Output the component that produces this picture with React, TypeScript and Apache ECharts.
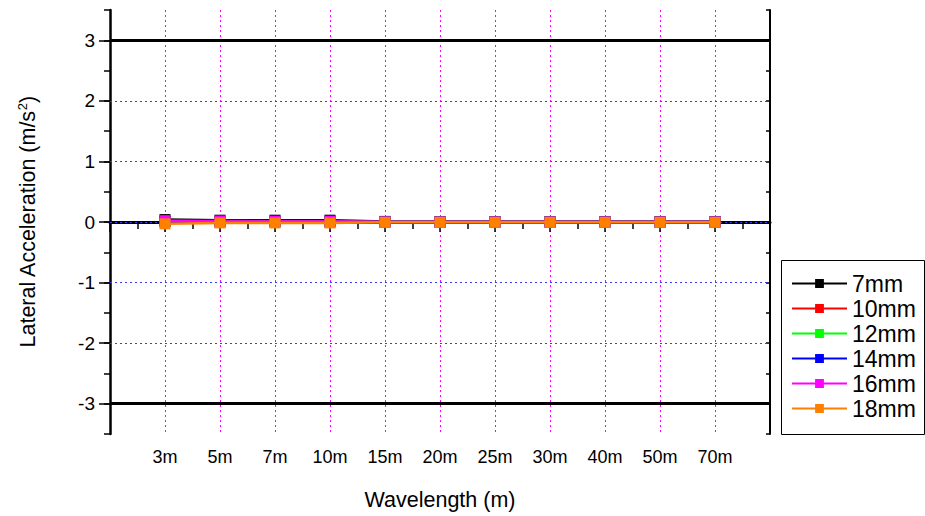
import React, { useEffect, useRef } from "react";
import * as echarts from "echarts";

// Wavelength categories along the x axis
const wavelengths = ["3m", "5m", "7m", "10m", "15m", "20m", "25m", "30m", "40m", "50m", "70m"];

// Lateral acceleration (m/s²) for each gauge deviation
const seriesNames = ["7mm", "10mm", "12mm", "14mm", "16mm", "18mm"];
const acc7mm = [0.04, 0.03, 0.03, 0.03, 0.01, 0.005, 0.005, 0.005, 0.005, 0.005, 0.005];
const acc10mm = [0.02, 0.02, 0.015, 0.015, 0.005, 0.005, 0.005, 0.005, 0.005, 0.005, 0.005];
const acc12mm = [0.005, 0.005, 0.005, 0.005, 0.0, 0.0, 0.0, 0.0, 0.0, 0.0, 0.0];
const acc14mm = [0.01, 0.0, 0.0, 0.0, 0.0, 0.0, 0.0, 0.0, 0.0, 0.0, 0.0];
const acc16mm = [0.02, 0.01, 0.01, 0.01, 0.0, 0.0, 0.0, 0.0, 0.0, 0.0, 0.0];
const acc18mm = [-0.03, -0.015, -0.015, -0.015, -0.005, -0.005, -0.005, -0.005, -0.005, -0.005, -0.005];
const seriesValues = [acc7mm, acc10mm, acc12mm, acc14mm, acc16mm, acc18mm];
const seriesColors = ["#000000", "#ff0000", "#00ff00", "#0000ff", "#ff00ff", "#ff8000"];

// Y axis tick labels and reference lines
const yTickValues = [-3, -2, -1, 0, 1, 2, 3];
const gridLevels = [-2, -1, 0, 1, 2];
const limitLevels = [-3, 3];

const FONT = "Liberation Sans, Arial, Helvetica, sans-serif";

export default function App() {
  const ref = useRef<HTMLDivElement>(null);

  useEffect(() => {
    if (!ref.current) return;
    const chart = echarts.init(ref.current, null, { renderer: "svg" });

    const lineSeries = seriesNames.map((name, si) => ({
      name,
      type: "line",
      xAxisIndex: 0,
      yAxisIndex: 0,
      data: wavelengths.map((_, i) => [i + 1, seriesValues[si][i]]),
      symbol: "rect",
      symbolSize: 11,
      showSymbol: true,
      lineStyle: { color: seriesColors[si], width: 2.5 },
      itemStyle: { color: seriesColors[si] },
      z: 5 + si,
    }));

    // Horizontal dotted grid and the two thick limit lines at ±3
    const guideSeries = {
      name: "guides",
      type: "line",
      xAxisIndex: 0,
      yAxisIndex: 0,
      data: [],
      silent: true,
      z: 1,
      markLine: {
        silent: true,
        symbol: "none",
        animation: false,
        label: { show: false },
        lineStyle: { color: "#3a3aff", width: 1, type: [2, 3] },
        data: [
          ...gridLevels.map((v) => ({
            yAxis: v,
            lineStyle: { color: "#3a3aff", width: 1, type: [2, 3], opacity: 1 },
          })),
          ...limitLevels.map((v) => ({
            yAxis: v,
            lineStyle: { color: "#000000", width: 3, type: "solid", opacity: 1 },
          })),
        ],
      },
    };

    chart.setOption({
      animation: false,
      backgroundColor: "#ffffff",
      textStyle: { fontFamily: FONT },
      grid: { left: 110, right: 155, top: 10, bottom: 82, containLabel: false },
      legend: {
        orient: "vertical",
        left: 786,
        top: 267,
        itemWidth: 55,
        itemHeight: 11,
        itemGap: 2,
        data: seriesNames,
        textStyle: { fontSize: 23, color: "#000", fontFamily: FONT },
      },
      graphic: [
        {
          type: "rect",
          left: 779,
          top: 258,
          shape: { width: 143, height: 174 },
          style: { fill: "none", stroke: "#000", lineWidth: 1 },
          silent: true,
          z: 0,
        },
      ],
      xAxis: [
        {
          type: "value",
          min: 0,
          max: wavelengths.length + 1,
          interval: 1,
          position: "bottom",
          axisLine: { show: true, lineStyle: { color: "#000", width: 2 } },
          axisTick: { show: true, length: 10, lineStyle: { color: "#000", width: 1.5 } },
          minorTick: { show: true, splitNumber: 2, length: 7, lineStyle: { color: "#000", width: 1.5 } },
          axisLabel: {
            fontSize: 18,
            color: "#000",
            margin: 14,
            fontFamily: FONT,
            formatter: (v: number) => {
              const i = Math.round(v) - 1;
              return i >= 0 && i < wavelengths.length ? wavelengths[i] : "";
            },
          },
          splitLine: { show: true, lineStyle: { color: "#ff00ff", width: 1, type: [2, 3] } },
          name: "Wavelength (m)",
          nameLocation: "middle",
          nameGap: 55,
          nameTextStyle: { fontSize: 21.5, color: "#000", fontFamily: FONT },
        },
        {
          type: "value",
          min: 0,
          max: wavelengths.length + 1,
          interval: 1,
          position: "top",
          axisLine: { show: true, lineStyle: { color: "#000", width: 3 } },
          axisTick: { show: false },
          axisLabel: { show: false },
          splitLine: { show: false },
        },
      ],
      yAxis: [
        {
          type: "value",
          min: -3.5,
          max: 3.5,
          interval: 0.5,
          position: "left",
          axisLine: { show: true, lineStyle: { color: "#000", width: 2.5 } },
          axisTick: { show: true, length: 6, lineStyle: { color: "#000", width: 1.5 } },
          axisLabel: {
            show: true,
            customValues: yTickValues,
            fontSize: 19,
            color: "#000",
            margin: 15,
            fontFamily: FONT,
            formatter: (v: number) => (Number.isInteger(v) ? String(v) : ""),
          },
          splitLine: { show: false },
          name: "Lateral Acceleration (m/s{sup|2})",
          nameLocation: "middle",
          nameGap: 71,
          nameTextStyle: {
            fontSize: 21.5,
            color: "#000",
            fontFamily: FONT,
            rich: {
              sup: { fontSize: 13, color: "#000", fontFamily: FONT, padding: [0, 0, 10, 0] },
            },
          },
        },
        {
          type: "value",
          min: -3.5,
          max: 3.5,
          interval: 0.5,
          position: "left",
          axisLine: { show: false },
          axisTick: { show: true, customValues: yTickValues, length: 11, lineStyle: { color: "#000", width: 1.5 } },
          axisLabel: { show: false },
          splitLine: { show: false },
        },
        {
          type: "value",
          min: -3.5,
          max: 3.5,
          interval: 0.5,
          position: "right",
          axisLine: { show: true, lineStyle: { color: "#000", width: 2 } },
          axisTick: { show: true, inside: true, length: 4, lineStyle: { color: "#000", width: 1.5 } },
          axisLabel: { show: false },
          splitLine: { show: false },
        },
      ],
      series: [guideSeries, ...lineSeries],
    });

    return () => chart.dispose();
  }, []);

  return (
    <div
      ref={ref}
      style={{ position: "fixed", left: 0, top: 0, width: 925, height: 516, background: "#fff" }}
    />
  );
}
